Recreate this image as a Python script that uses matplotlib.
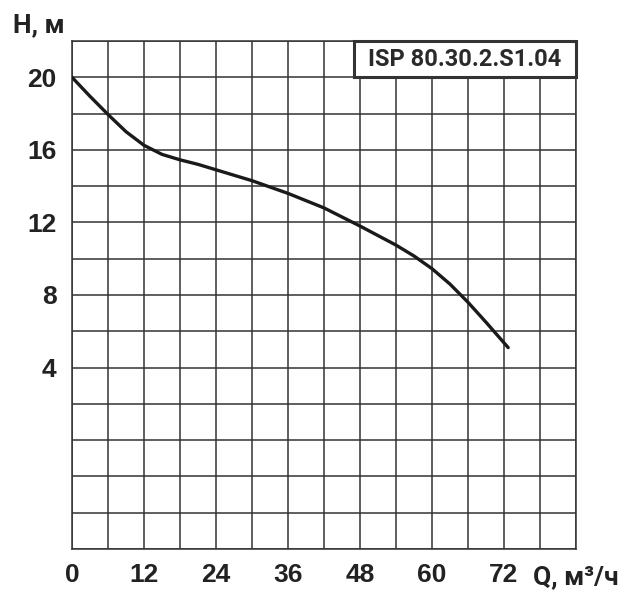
import matplotlib
matplotlib.use("Agg")
import matplotlib.pyplot as plt
from matplotlib.patches import Rectangle

# Q-H curve
q_values = [0, 3, 6, 9, 12, 15, 18, 21, 24, 30, 36, 42, 48, 54, 57, 60,
            63, 66, 69, 72.7]
h_values = [20.0, 18.95, 17.95, 17.0, 16.25, 15.75, 15.45, 15.2, 14.9, 14.3,
            13.6, 12.8, 11.8, 10.75, 10.15, 9.45, 8.6, 7.6, 6.5, 5.1]

x_ticks = [0, 12, 24, 36, 48, 60, 72]
y_ticks = [4, 8, 12, 16, 20]
model_name = "ISP 80.30.2.S1.04"

grid_color = "#333333"
tick_font = ["Liberation Sans", "DejaVu Sans"]
label_font = ["Roboto", "DejaVu Sans"]

fig = plt.figure(figsize=(6.31, 5.93), dpi=100)
ax = fig.add_axes([0.1141, 0.0742, 0.7987, 0.8567])

ax.set_xlim(0, 84)
ax.set_ylim(-6, 22)
ax.set_xticks(range(0, 85, 6), minor=True)
ax.set_yticks(range(-6, 23, 2), minor=True)
ax.set_xticks(x_ticks)
ax.set_yticks(y_ticks)
ax.grid(True, which="both", color=grid_color, linewidth=1.1)
ax.tick_params(which="both", length=0)
ax.tick_params(axis="x", pad=10)
ax.tick_params(axis="y", pad=11)
for lab in ax.get_xticklabels() + ax.get_yticklabels():
    lab.set_family(tick_font)
    lab.set_fontweight("bold")
    lab.set_fontsize(19)
    lab.set_color("#222222")
for sp in ax.spines.values():
    sp.set_color(grid_color)
    sp.set_linewidth(1.1)

ax.plot(q_values, h_values, color="#1a1a1a", linewidth=2.4,
        solid_capstyle="round", solid_joinstyle="round", zorder=5)

# model label box in the top right corner
box = Rectangle((47, 20), 37, 2, facecolor="white", edgecolor="#333333",
                linewidth=2.2, zorder=6, clip_on=False)
ax.add_patch(box)
ax.text(65.5, 21.0, model_name, ha="center", va="center", fontsize=17,
        fontweight="bold", family=label_font, color="#2a2a2a", zorder=7)

fig.text(0.021, 0.957, "H, м", ha="left", va="center", fontsize=19,
         fontweight="bold", family=label_font, color="#222222")
fig.text(0.845, 0.027, "Q, м³/ч", ha="left", va="center", fontsize=19,
         fontweight="bold", family=label_font, color="#222222")

fig.savefig("out.png", dpi=100, facecolor="white")
